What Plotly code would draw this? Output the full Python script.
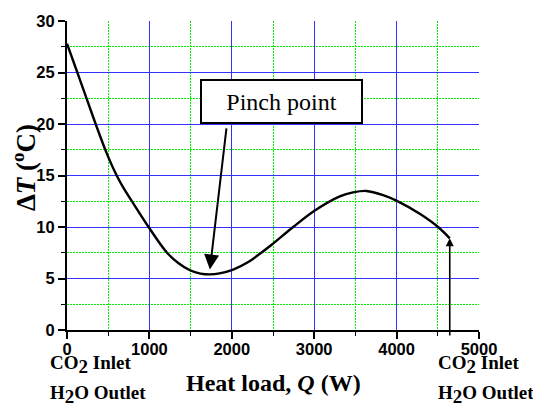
import plotly.graph_objects as go

# Data
heat_load_W = [0, 130, 250, 348, 480, 603, 700, 800, 990, 1209, 1350, 1492, 1620, 1734,
               1850, 2017, 2200, 2341, 2480, 2745, 3008, 3311, 3472, 3634, 3836,
               3998, 4281, 4503, 4645]
delta_T_C = [27.8, 24.9, 22.2, 20.0, 17.2, 15.0, 13.6, 12.35, 10.0, 7.55, 6.5, 5.8, 5.48, 5.4,
             5.5, 5.87, 6.6, 7.4, 8.25, 10.0, 11.6, 12.97, 13.36, 13.5, 13.1,
             12.56, 11.28, 10.0, 8.9]

x_ticks = [0, 1000, 2000, 3000, 4000, 5000]
y_ticks = [0, 5, 10, 15, 20, 25, 30]

pinch_label = "Pinch point"
pinch_tip = (1734, 5.87)
pinch_tail = (1937, 19.73)
pinch_box = (2601, 22.2)
end_tip = (4645, 8.9)
end_tail = (4645, -0.67)

inlet_label = "CO<sub><span style='font-size:19px'>2</span></sub> Inlet"
outlet_label = "H<sub><span style='font-size:19px'>2</span></sub>O Outlet"

SERIF = "Liberation Serif, Times New Roman, serif"
SANS = "Liberation Sans, Arial, sans-serif"
MAJOR = "rgb(50,50,255)"
MINOR = "rgb(0,240,0)"

fig = go.Figure()
fig.add_trace(go.Scatter(
    x=heat_load_W, y=delta_T_C, mode="lines",
    line=dict(color="black", width=2.4, shape="spline", smoothing=1.0),
    showlegend=False, hoverinfo="skip"))

axis_common = dict(
    showline=True, linecolor="black", linewidth=2,
    ticks="outside", ticklen=7, tickwidth=1.5, tickcolor="black",
    showgrid=True, gridcolor=MAJOR, gridwidth=1.2,
    zeroline=False, mirror=False,
    tickfont=dict(family=SANS, size=16.5, color="black", weight="bold"),
)

fig.update_xaxes(range=[0, 5000], tickvals=x_ticks, ticklabelstandoff=-4,
                 minor=dict(dtick=500, tick0=0, ticks="outside", ticklen=4,
                            tickcolor="black", tickwidth=1.2, showgrid=True,
                            gridcolor=MINOR, griddash="1.5px,1.5px", gridwidth=1.1),
                 **axis_common)
fig.update_yaxes(range=[0, 30], tickvals=y_ticks,
                 minor=dict(dtick=2.5, tick0=0, ticks="outside", ticklen=4,
                            tickcolor="black", tickwidth=1.2, showgrid=True,
                            gridcolor=MINOR, griddash="1.5px,1.5px", gridwidth=1.1),
                 **axis_common)

annotations = [
    # pinch arrow
    dict(x=pinch_tip[0], y=pinch_tip[1], ax=pinch_tail[0], ay=pinch_tail[1],
         xref="x", yref="y", axref="x", ayref="y", text="", showarrow=True,
         arrowhead=2, arrowsize=1.5, arrowwidth=2, arrowcolor="black"),
    # pinch box
    dict(x=pinch_box[0], y=pinch_box[1], xref="x", yref="y", text=pinch_label,
         xanchor="center", yanchor="middle",
         showarrow=False, font=dict(family=SERIF, size=24, color="black"),
         bgcolor="white", bordercolor="black", borderwidth=2, borderpad=2,
         width=155, height=37),
    # end arrow
    dict(x=end_tip[0], y=end_tip[1], ax=end_tail[0], ay=end_tail[1],
         xref="x", yref="y", axref="x", ayref="y", text="", showarrow=True,
         arrowhead=2, arrowsize=1.0, arrowwidth=1.6, arrowcolor="black"),
    # axis titles
    dict(x=0.501, y=-0.173, xref="paper", yref="paper",
         xanchor="center", yanchor="middle",
         text="<b>Heat load, <i>Q</i> (W)</b>", showarrow=False,
         font=dict(family=SERIF, size=24, color="black")),
    dict(x=-0.106, y=0.525, xref="paper", yref="paper", textangle=-90,
         xanchor="center", yanchor="middle",
         text="<b>Δ<i>T</i> (<sup>o</sup>C)</b>", showarrow=False,
         font=dict(family=SERIF, size=27, color="black")),
]
for xp in (-0.046, 0.895):
    annotations.append(dict(x=xp, y=-0.113, xref="paper", yref="paper",
                            xanchor="left", yanchor="middle",
                            text="<b>" + inlet_label + "</b>",
                            showarrow=False,
                            font=dict(family=SERIF, size=19, color="black")))
    annotations.append(dict(x=xp, y=-0.209, xref="paper", yref="paper",
                            xanchor="left", yanchor="middle",
                            text="<b>" + outlet_label + "</b>",
                            showarrow=False,
                            font=dict(family=SERIF, size=19, color="black")))

fig.update_layout(
    width=533, height=409,
    margin=dict(l=67, r=53.7, t=16, b=79.3),
    paper_bgcolor="white", plot_bgcolor="white",
    annotations=annotations,
)

fig.write_html("out.html", config={"displayModeBar": False},
               post_script="document.body.style.margin='0';"
                           "document.body.style.overflow='hidden';")
